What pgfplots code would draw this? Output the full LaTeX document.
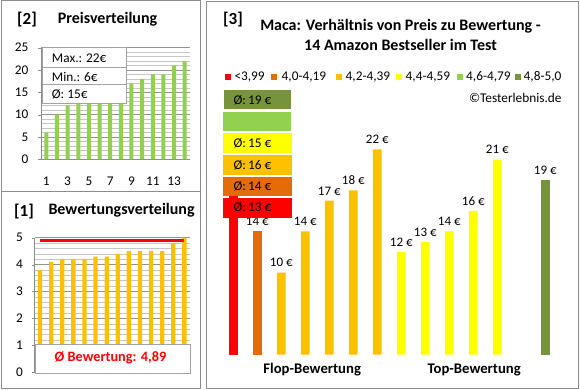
\documentclass[border=0pt]{standalone}
\usepackage{pgfplots}
\pgfplotsset{compat=1.18}
\usepackage{fontspec}
\setmainfont{Carlito}
\definecolor{cRed}{HTML}{FF0000}
\definecolor{cOrange}{HTML}{E36C09}
\definecolor{cAmber}{HTML}{FFC000}
\definecolor{cYellow}{HTML}{FFFF00}
\definecolor{cLGreen}{HTML}{92D050}
\definecolor{cOlive}{HTML}{77933C}
\definecolor{frameGray}{HTML}{8C8C8C}
\pgfplotsset{
  /pgf/number format/assume math mode=true,
  myaxis/.style={
    scale only axis,
    axis x line*=bottom, axis y line*=left,
    axis line style={frameGray, line width=0.8pt},
    xmin=0.5, xmax=14.5,
    ymajorgrids, yminorgrids,
    major grid style={gray!85, line width=0.6pt},
    minor grid style={gray!45, line width=0.6pt},
    tick align=outside, major tick length=3pt, minor tick length=0pt,
    tick style={frameGray},
    xtick style={draw=none},
    tick label style={font=\fontsize{13.3}{16}\selectfont},
  }
}
\begin{document}
\begin{tikzpicture}[font=\fontsize{13.3}{16}\selectfont]
\useasboundingbox (0pt,0pt) rectangle (580pt,-390pt);
% ---------- frames
\draw[frameGray, line width=1pt] (1pt,-1pt) rectangle (200pt,-191pt);
\draw[frameGray, line width=1pt] (1pt,-191pt) rectangle (200pt,-388pt);
\draw[frameGray, line width=1pt] (206pt,-2pt) rectangle (578.5pt,-388pt);

% ---------- panel [2] Preisverteilung
\node[font=\bfseries\fontsize{17}{20}\selectfont] at (27pt,-20pt) {[2]};
\node[font=\bfseries\fontsize{16}{19}\selectfont, anchor=west, inner sep=0pt] at (57.7pt,-19pt) {Preisverteilung};
\begin{axis}[myaxis,
  at={(41pt,-159.3pt)}, anchor=south west,
  width=149pt, height=111.6pt,
  ymin=0, ymax=25, ytick={0,5,...,25}, minor y tick num=4,
  xtick={1,3,...,13},
  xticklabel style={yshift=-11pt},
  yticklabel style={xshift=-6pt},
]
\addplot[ybar, bar width=4pt, fill=cLGreen, draw=none] coordinates {
(1,6) (2,10) (3,12) (4,13) (5,14) (6,14) (7,14) (8,16) (9,17) (10,18) (11,19) (12,19) (13,21) (14,22)};
\end{axis}
\draw[frameGray!80, line width=0.8pt, fill=white] (42pt,-47.7pt) rectangle (126.7pt,-103.3pt);
\draw[frameGray!80, line width=0.8pt] (42pt,-67.3pt) -- (126.7pt,-67.3pt);
\draw[frameGray!80, line width=0.8pt] (42pt,-84pt) -- (126.7pt,-84pt);
\node[anchor=west, inner sep=0pt] at (51.7pt,-58pt) {Max.: 22€};
\node[anchor=west, inner sep=0pt] at (51.7pt,-76.5pt) {Min.: 6€};
\node[anchor=west, inner sep=0pt] at (51.7pt,-94pt) {Ø: 15€};

% ---------- panel [1] Bewertungsverteilung
\node[font=\bfseries\fontsize{17}{20}\selectfont] at (24pt,-211.7pt) {[1]};
\node[font=\bfseries\fontsize{16}{19}\selectfont, anchor=west, inner sep=0pt] at (48.3pt,-210.7pt) {Bewertungsverteilung};
\begin{axis}[myaxis,
  at={(34.5pt,-372.3pt)}, anchor=south west,
  width=155.4pt, height=134.6pt,
  ymin=0, ymax=5, ytick={0,1,...,5}, minor y tick num=4,
  xtick=\empty,
  yticklabel style={xshift=-5pt},
]
\addplot[ybar, bar width=4.3pt, fill=cAmber, draw=none] coordinates {
(1,3.8) (2,4.1) (3,4.2) (4,4.2) (5,4.2) (6,4.3) (7,4.3) (8,4.4) (9,4.5) (10,4.5) (11,4.5) (12,4.5) (13,4.8) (14,5.0)};
\addplot[cRed, line width=2.7pt, no marks] coordinates {(1,4.89) (14,4.89)};
\end{axis}
\draw[frameGray!80, line width=0.8pt, fill=white] (35pt,-344.3pt) rectangle (190pt,-373.3pt);
\node[text=cRed, font=\bfseries\fontsize{14.3}{17}\selectfont] at (110.5pt,-358pt) {Ø Bewertung: 4,89};

% ---------- panel [3]
\node[font=\bfseries\fontsize{17}{20}\selectfont] at (233pt,-20pt) {[3]};
\node[font=\bfseries\fontsize{16}{20}\selectfont, align=center] at (400.5pt,-35pt) {Maca: Verhältnis von Preis zu Bewertung -\\14 Amazon Bestseller im Test};
\begin{axis}[
  at={(221.3pt,-354.7pt)}, anchor=south west,
  scale only axis, width=336pt, height=225.9pt,
  xmin=0.5, xmax=14.5, ymin=2, ymax=24,
  hide axis, clip=false,
  every axis plot/.append style={ybar, bar width=8.7pt, bar shift=0pt, draw=none},
  every node near coord/.append style={font=\fontsize{13}{15}\selectfont, text=black, yshift=2pt},
  lbl/.style={nodes near coords={\pgfmathprintnumber[fixed,precision=0]{\pgfplotspointmeta} €}},
]
\addplot[fill=cRed] coordinates {(1,17.5)};
\addplot[fill=cOrange, lbl] coordinates {(2,14)};
\addplot[fill=cAmber, lbl] coordinates {(3,10) (4,14) (5,17) (6,18) (7,22)};
\addplot[fill=cYellow, lbl] coordinates {(8,12) (9,13) (10,14) (11,16) (12,21)};
\addplot[fill=cOlive, lbl] coordinates {(14,19)};
\end{axis}
% legend
\foreach \c/\xs/\xt/\t in {cRed/225/234.3/{<3,99}, cOrange/271.3/281.5/{4,0-4,19}, cAmber/336/345.5/{4,2-4,39}, cYellow/396/405.5/{4,4-4,59}, cLGreen/457.3/466/{4,6-4,79}, cOlive/514.7/523.5/{4,8-5,0}}{
  \fill[\c] (\xs pt,-74pt) rectangle ++(6pt,-6pt);
  \node[anchor=west, inner sep=0pt] at (\xt pt,-77pt) {\t};
}
\node[anchor=east, inner sep=0pt] at (561.7pt,-98.3pt) {©Testerlebnis.de};
% average boxes
\fill[cOlive] (224pt,-90pt) rectangle (291pt,-109.3pt);
\fill[cLGreen] (222.7pt,-112pt) rectangle (291pt,-130.7pt);
\fill[cYellow] (222.7pt,-133.3pt) rectangle (291.7pt,-152.7pt);
\fill[cAmber] (222.7pt,-155pt) rectangle (291.7pt,-175pt);
\fill[cOrange] (222.7pt,-177pt) rectangle (291.7pt,-195.7pt);
\fill[cRed] (222.7pt,-197.7pt) rectangle (291.7pt,-217.7pt);
\node[anchor=west, inner sep=0pt] at (233.3pt,-100pt) {Ø:\,19 €};
\node[anchor=west, inner sep=0pt] at (233.3pt,-143pt) {Ø:\,15 €};
\node[anchor=west, inner sep=0pt] at (233.3pt,-165pt) {Ø:\,16 €};
\node[anchor=west, inner sep=0pt] at (233.3pt,-186.5pt) {Ø:\,14 €};
\node[anchor=west, inner sep=0pt] at (233.3pt,-207.7pt) {Ø:\,13 €};
% category labels
\node[font=\bfseries\fontsize{14.7}{17}\selectfont] at (312.2pt,-370pt) {Flop-Bewertung};
\node[font=\bfseries\fontsize{14.7}{17}\selectfont] at (474.2pt,-370pt) {Top-Bewertung};
\end{tikzpicture}
\end{document}
